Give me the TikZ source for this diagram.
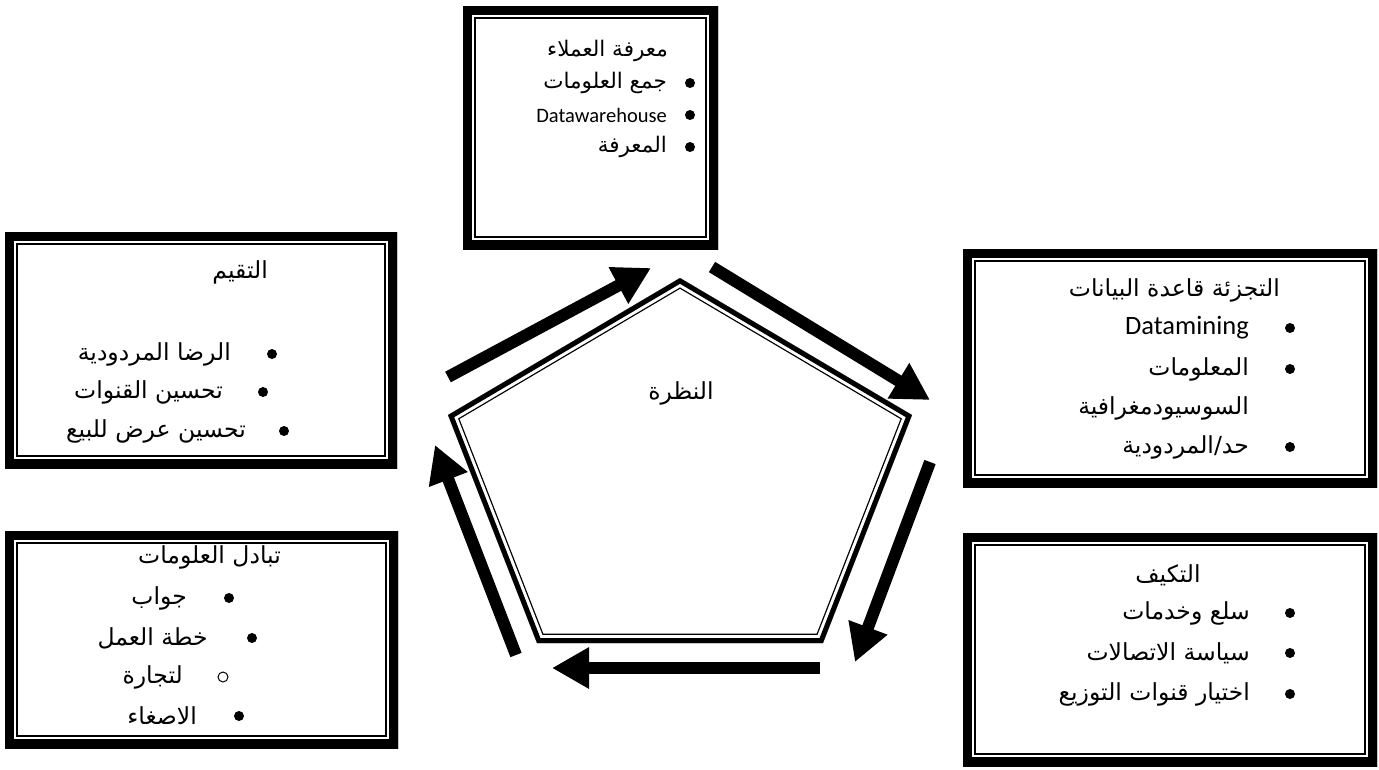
\documentclass[tikz,border=0pt]{standalone}
\usepackage{fontspec}
\setmainfont{Carlito}
\newfontfamily\arabicfont[Script=Arabic]{DejaVu Sans}
\TeXXeTstate=1
\usetikzlibrary{arrows.meta}

\tikzset{
  % thick-thin double frame, drawn inside the node outline
  frame/.style={rectangle, inner sep=0pt, draw=none, path picture={
    \draw[line width=25.6pt] (path picture bounding box.south west) rectangle (path picture bounding box.north east);
    \draw[white, line width=22.6pt] (path picture bounding box.south west) rectangle (path picture bounding box.north east);
    \draw[line width=18pt] (path picture bounding box.south west) rectangle (path picture bounding box.north east);
  }},
  ar/.style={font=\arabicfont\fontsize{23.5}{27}\selectfont, inner sep=0pt, anchor=east},
  arsmall/.style={font=\arabicfont\fontsize{21.5}{25}\selectfont, inner sep=0pt, anchor=east},
  lat/.style={font=\fontsize{26.5}{31}\selectfont, inner sep=0pt, anchor=east},
  latsmall/.style={font=\fontsize{20.5}{25}\selectfont, inner sep=0pt, anchor=east},
  dot/.style={circle, fill=black, inner sep=0pt, minimum size=10pt},
  ring/.style={circle, draw=black, line width=1pt, inner sep=0pt, minimum size=10pt},
  flow/.style={line width=12pt, -{Triangle[length=37pt,width=39pt]}},
}

\begin{document}
\begin{tikzpicture}[x=1pt,y=-1pt]
\fill[white] (0,0) rectangle (1379,769);
\useasboundingbox (0,0) rectangle (1379,769);

% ---- frames ----
\node[frame, minimum width=255pt, minimum height=243pt] (top) at (590.5,127.5) {};
\node[frame, minimum width=414pt, minimum height=238pt] (seg) at (1170,368) {};
\node[frame, minimum width=414pt, minimum height=233pt] (adapt) at (1170,649.5) {};
\node[frame, minimum width=392pt, minimum height=236pt] (eval) at (201,350) {};
\node[frame, minimum width=393pt, minimum height=217pt] (exch) at (201.5,639.5) {};

% ---- central pentagon ----
\coordinate (p1) at (680,278);
\coordinate (p2) at (912,415);
\coordinate (p3) at (823,643);
\coordinate (p4) at (537,643);
\coordinate (p5) at (448,415);
\begin{scope}
  \clip (p1) -- (p2) -- (p3) -- (p4) -- (p5) -- cycle;
  \draw[line width=18.6pt, line join=miter] (p1) -- (p2) -- (p3) -- (p4) -- (p5) -- cycle;
  \draw[white, line width=16pt, line join=miter] (p1) -- (p2) -- (p3) -- (p4) -- (p5) -- cycle;
  \draw[line width=10pt, line join=miter] (p1) -- (p2) -- (p3) -- (p4) -- (p5) -- cycle;
\end{scope}
\node[ar, anchor=center] (vision) at (681,393) {\beginR النظرة\endR};

% ---- cycle arrows ----
\coordinate (a1s) at (448,377); \coordinate (a1e) at (651,268);
\coordinate (a2s) at (712,267); \coordinate (a2e) at (930,400);
\coordinate (a3s) at (930,462); \coordinate (a3e) at (855,662);
\coordinate (a4s) at (820,668); \coordinate (a4e) at (552,668);
\coordinate (a5s) at (516,655); \coordinate (a5e) at (435,445);
\draw[flow] (a1s) -- (a1e);
\draw[flow] (a2s) -- (a2e);
\draw[flow] (a3s) -- (a3e);
\draw[flow] (a4s) -- (a4e);
\draw[flow] (a5s) -- (a5e);

% ---- top box ----
\node[arsmall] (t0) at (668,51) {\beginR معرفة العملاء\endR};
\node[dot] (td1) at (690,83) {};
\node[arsmall] (t1) at (667,83) {\beginR جمع العلومات\endR};
\node[dot] (td2) at (690,115) {};
\node[latsmall] (t2) at (667,115) {Datawarehouse};
\node[dot] (td3) at (690,147) {};
\node[arsmall] (t3) at (667,147) {\beginR المعرفة\endR};

% ---- segmentation box ----
\node[ar] (s0) at (1280,290) {\beginR التجزئة قاعدة البيانات\endR};
\node[dot] (sd1) at (1290,328) {};
\node[lat] (s1) at (1249,328) {Datamining};
\node[dot] (sd2) at (1290,369) {};
\node[ar] (s2) at (1249,369) {\beginR المعلومات\endR};
\node[ar] (s3) at (1249,408) {\beginR السوسيودمغرافية\endR};
\node[dot] (sd4) at (1290,447) {};
\node[ar] (s4) at (1249,447) {\beginR حد/المردودية\endR};

% ---- adaptation box ----
\node[ar, anchor=center] (d0) at (1168,575) {\beginR التكيف\endR};
\node[dot] (dd1) at (1290,613) {};
\node[ar] (d1) at (1250,613) {\beginR سلع وخدمات\endR};
\node[dot] (dd2) at (1290,653) {};
\node[ar] (d2) at (1250,653) {\beginR سياسة الاتصالات\endR};
\node[dot] (dd3) at (1290,694) {};
\node[ar] (d3) at (1250,694) {\beginR اختيار قنوات التوزيع\endR};

% ---- evaluation box ----
\node[ar] (e0) at (268,272) {\beginR التقيم\endR};
\node[dot] (ed1) at (272,354) {};
\node[ar] (e1) at (231,354) {\beginR الرضا المردودية\endR};
\node[dot] (ed2) at (263,392) {};
\node[ar] (e2) at (223,392) {\beginR تحسين القنوات\endR};
\node[dot] (ed3) at (284,431) {};
\node[ar] (e3) at (246,431) {\beginR تحسين عرض للبيع\endR};

% ---- exchange box ----
\node[ar] (x0) at (281,557) {\beginR تبادل العلومات\endR};
\node[dot] (xd1) at (229,598) {};
\node[ar] (x1) at (187,598) {\beginR جواب\endR};
\node[dot] (xd2) at (252,638) {};
\node[ar] (x2) at (208,638) {\beginR خطة العمل\endR};
\node[ring] (xd3) at (223,677) {};
\node[ar] (x3) at (183,677) {\beginR لتجارة\endR};
\node[dot] (xd4) at (239,716) {};
\node[ar] (x4) at (197,716) {\beginR الاصغاء\endR};
\end{tikzpicture}
\end{document}
